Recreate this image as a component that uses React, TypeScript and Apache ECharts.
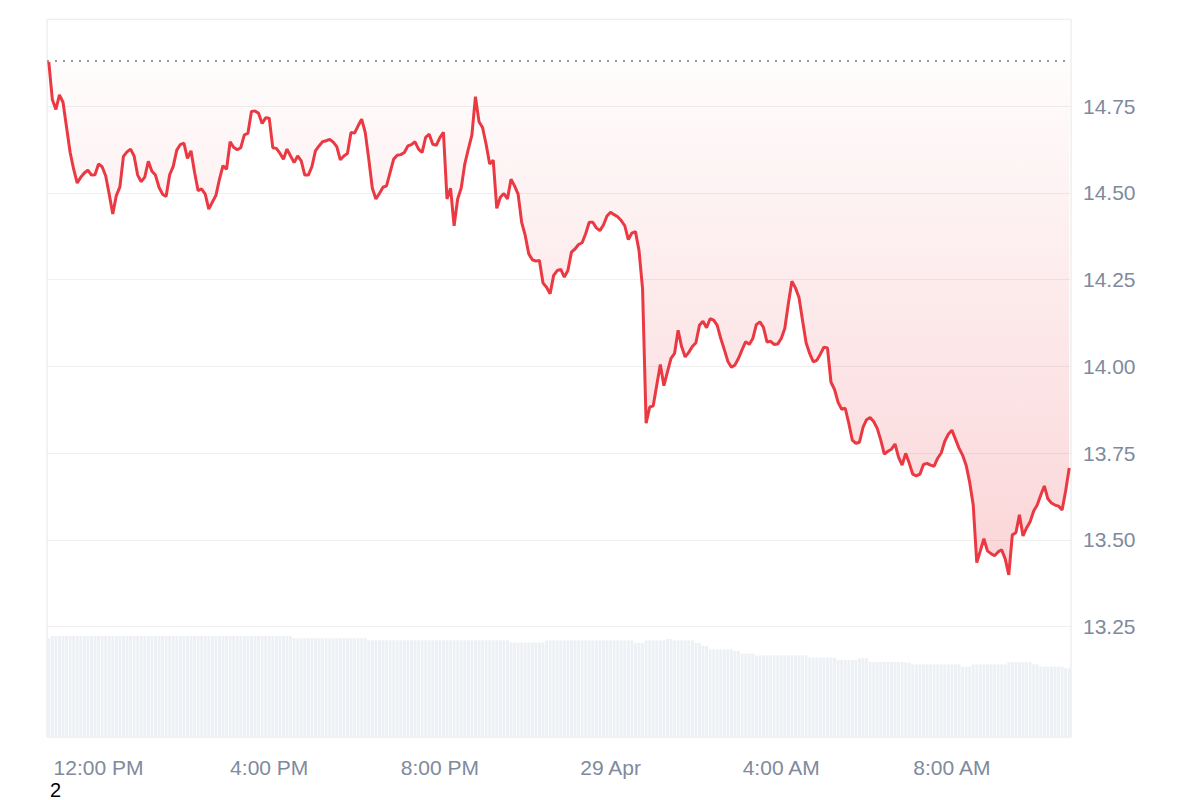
import React, { useEffect, useRef } from "react";
import * as echarts from "echarts";

// ---- data ----
const startTime = { year: 2024, month: 3, day: 28, hour: 10, minute: 50 };
const stepMinutes = 5;

const xTickTimes = ["12:00", "16:00", "20:00", "00:00", "04:00", "08:00"];
const xTickLabels = ["12:00 PM", "4:00 PM", "8:00 PM", "29 Apr", "4:00 AM", "8:00 AM"];

const yMin = 12.75;
const yMax = 15.0;
const yInterval = 0.25;
const yLabelRange = [13.25, 14.75];

const baselinePrice = 14.877;

const priceValues = [
  14.877, 14.769, 14.74, 14.782, 14.761, 14.689, 14.617, 14.568, 14.528, 14.545,
  14.557, 14.565, 14.551, 14.552, 14.583, 14.575, 14.549, 14.496, 14.439, 14.492,
  14.517, 14.605, 14.618, 14.626, 14.606, 14.551, 14.532, 14.545, 14.591, 14.562,
  14.551, 14.516, 14.496, 14.489, 14.552, 14.576, 14.623, 14.639, 14.643, 14.599,
  14.621, 14.559, 14.506, 14.511, 14.496, 14.453, 14.473, 14.492, 14.539, 14.578,
  14.568, 14.647, 14.631, 14.624, 14.63, 14.667, 14.671, 14.734, 14.736, 14.729,
  14.7, 14.716, 14.715, 14.63, 14.628, 14.614, 14.597, 14.626, 14.606, 14.587,
  14.606, 14.592, 14.551, 14.551, 14.575, 14.621, 14.635, 14.647, 14.65, 14.654,
  14.646, 14.633, 14.595, 14.606, 14.613, 14.674, 14.672, 14.693, 14.712, 14.674,
  14.597, 14.513, 14.482, 14.498, 14.516, 14.52, 14.559, 14.597, 14.608, 14.61,
  14.616, 14.635, 14.639, 14.647, 14.626, 14.616, 14.66, 14.669, 14.64, 14.637,
  14.659, 14.674, 14.482, 14.513, 14.405, 14.482, 14.514, 14.583, 14.626, 14.666,
  14.777, 14.705, 14.688, 14.64, 14.583, 14.594, 14.455, 14.487, 14.498, 14.482,
  14.539, 14.52, 14.496, 14.415, 14.377, 14.324, 14.307, 14.303, 14.305, 14.24,
  14.228, 14.209, 14.262, 14.276, 14.279, 14.257, 14.276, 14.329, 14.338, 14.351,
  14.356, 14.382, 14.415, 14.415, 14.399, 14.391, 14.407, 14.433, 14.444, 14.437,
  14.431, 14.42, 14.405, 14.365, 14.384, 14.388, 14.334, 14.224, 13.836, 13.882,
  13.886, 13.946, 14.005, 13.944, 13.984, 14.023, 14.037, 14.104, 14.056, 14.027,
  14.04, 14.057, 14.068, 14.118, 14.13, 14.111, 14.137, 14.133, 14.118, 14.08,
  14.048, 14.014, 13.997, 14.004, 14.023, 14.048, 14.071, 14.063, 14.08, 14.12,
  14.128, 14.112, 14.07, 14.072, 14.063, 14.064, 14.08, 14.109, 14.18, 14.245,
  14.226, 14.198, 14.132, 14.068, 14.037, 14.013, 14.017, 14.035, 14.055, 14.053,
  13.954, 13.933, 13.896, 13.876, 13.879, 13.836, 13.787, 13.778, 13.781, 13.824,
  13.846, 13.852, 13.841, 13.821, 13.787, 13.747, 13.755, 13.761, 13.776, 13.738,
  13.715, 13.749, 13.721, 13.689, 13.684, 13.689, 13.717, 13.72, 13.715, 13.712,
  13.735, 13.75, 13.784, 13.804, 13.816, 13.79, 13.764, 13.744, 13.715, 13.666,
  13.6, 13.434, 13.468, 13.503, 13.468, 13.46, 13.454, 13.465, 13.471, 13.445,
  13.399, 13.514, 13.52, 13.572, 13.511, 13.534, 13.552, 13.583, 13.6, 13.629,
  13.655, 13.618, 13.606, 13.6, 13.597, 13.586, 13.641, 13.707,
];

const volumeValues = [
  98.7,
  101, 101, 101, 101, 101, 101, 101, 101, 101, 101, 101, 101, 101, 101, 101, 101, 101,
  101, 101, 101, 101, 101, 101, 101, 101, 101, 101, 101, 101, 101, 101, 101, 101, 101,
  101, 101, 101, 101, 101, 101, 101, 101, 101, 101, 101, 101, 101, 101, 101, 101, 101,
  101, 101, 101, 101, 101, 101, 101, 101, 101, 101, 101, 101, 101, 101, 101, 101, 101,
  98.7, 98.7, 98.7, 98.7, 98.7, 98.7, 98.7, 98.7, 98.7, 98.7, 98.7, 98.7, 98.7, 98.7,
  98.7, 98.7, 98.7, 98.7, 98.7, 98.7, 98.7,
  96.7, 96.7, 96.7, 96.7, 96.7, 96.7, 96.7, 96.7, 96.7, 96.7, 96.7, 96.7, 96.7, 96.7,
  96.7, 96.7, 96.7, 96.7, 96.7, 96.7, 96.7, 96.7, 96.7, 96.7, 96.7, 96.7, 96.7, 96.7,
  96.7, 96.7, 96.7, 96.7, 96.7, 96.7, 96.7, 96.7, 96.7, 96.7, 96.7, 96.7,
  94.5, 94.5, 94.5, 94.5, 94.5, 94.5, 94.5, 94.5, 94.5, 94.5,
  96.6, 96.6, 96.6, 96.6, 96.6, 96.6, 96.6, 96.6, 96.6, 96.6, 96.6, 96.6, 96.6,
  96.6, 96.6, 96.6, 96.6, 96.6, 96.6, 96.6, 96.6, 96.6, 96.6, 96.6, 96.6,
  94.1, 94.1, 94.1,
  96.6, 96.6, 96.6, 96.6, 96.6, 96.6,
  98, 98,
  96.6, 96.6, 96.6, 96.6, 96.6, 96.6,
  94.1, 94.1,
  91.2, 91.2,
  87.6, 87.6, 87.6, 87.6, 87.6, 87.6, 87.6,
  85.9, 85.9,
  83.4, 83.4, 83.4, 83.4,
  81.6, 81.6, 81.6, 81.6, 81.6, 81.6, 81.6, 81.6, 81.6, 81.6, 81.6, 81.6, 81.6, 81.6, 81.6,
  79.4, 79.4, 79.4, 79.4, 79.4, 79.4, 79.4, 79.4,
  76.9, 76.9, 76.9, 76.9, 76.9, 76.9,
  78.7, 78.7, 78.7,
  75.1, 75.1, 75.1, 75.1, 75.1, 75.1, 75.1, 75.1, 75.1, 75.1,
  74.4, 74.4,
  72.6, 72.6, 72.6, 72.6, 72.6, 72.6, 72.6, 72.6, 72.6, 72.6, 72.6, 72.6, 72.6, 72.6,
  70.5, 70.5, 70.5,
  72.6, 72.6, 72.6, 72.6, 72.6, 72.6, 72.6, 72.6, 72.6, 72.6,
  74.8, 74.8, 74.8, 74.8, 74.8, 74.8, 74.8,
  72.6, 72.6,
  70.5, 70.5, 70.5, 70.5, 70.5, 70.5, 70.5,
  68.7, 68.7,
];

const volumeAxisMax = 717.7;

// ---- categories (5-minute timestamps) ----
const categories: string[] = [];
for (let i = 0; i < priceValues.length; i++) {
  const d = new Date(
    startTime.year,
    startTime.month,
    startTime.day,
    startTime.hour,
    startTime.minute + i * stepMinutes
  );
  categories.push(
    `${String(d.getHours()).padStart(2, "0")}:${String(d.getMinutes()).padStart(2, "0")}`
  );
}

const fillGap = priceValues.map((v) => +(baselinePrice - v).toFixed(3));

const FONT = "'Liberation Sans', Arial, Helvetica, sans-serif";
const LABEL_COLOR = "#808a9d";
const GRID_LINE = "#efefef";

export default function App() {
  const ref = useRef<HTMLDivElement>(null);

  useEffect(() => {
    if (!ref.current) return;
    const chart = echarts.init(ref.current, undefined, { renderer: "svg" });

    const tickCount = Math.round((yMax - yMin) / yInterval) + 1;
    const splitColors: string[] = [];
    for (let i = 0; i < tickCount; i++) {
      const v = yMin + i * yInterval;
      splitColors.push(v < yLabelRange[0] - 1e-6 ? "rgba(0,0,0,0)" : GRID_LINE);
    }

    chart.setOption({
      animation: false,
      textStyle: { fontFamily: FONT },
      grid: [
        { left: 47, right: 129, top: 19.3, height: 783.9, show: false },
        {
          left: 47,
          right: 129,
          top: 19.3,
          bottom: 63,
          show: true,
          borderColor: "#e6e6e6",
          borderWidth: 1,
          backgroundColor: "transparent",
        },
      ],
      xAxis: [
        {
          type: "category",
          gridIndex: 0,
          data: categories,
          boundaryGap: true,
          show: false,
        },
        {
          type: "category",
          gridIndex: 1,
          data: categories,
          boundaryGap: true,
          axisLine: { show: false },
          axisTick: { show: false },
          splitLine: { show: false },
          axisLabel: {
            interval: (_i: number, value: string) => xTickTimes.indexOf(value) >= 0,
            formatter: (value: string) => {
              const idx = xTickTimes.indexOf(value);
              return idx >= 0 ? xTickLabels[idx] : "";
            },
            color: LABEL_COLOR,
            fontSize: 21,
            fontFamily: FONT,
            margin: 20,
          },
        },
      ],
      yAxis: [
        {
          type: "value",
          gridIndex: 0,
          position: "right",
          min: yMin,
          max: yMax,
          interval: yInterval,
          axisLine: { show: false },
          axisTick: { show: false },
          splitLine: { show: true, lineStyle: { color: splitColors, width: 1 } },
          axisLabel: {
            color: LABEL_COLOR,
            fontSize: 21,
            fontFamily: FONT,
            margin: 12,
            formatter: (v: number) =>
              v >= yLabelRange[0] - 1e-6 && v <= yLabelRange[1] + 1e-6 ? v.toFixed(2) : "",
          },
        },
        {
          type: "value",
          gridIndex: 1,
          min: 0,
          max: volumeAxisMax,
          show: false,
          splitLine: { show: false },
        },
      ],
      series: [
        {
          name: "volume",
          type: "bar",
          xAxisIndex: 1,
          yAxisIndex: 1,
          data: volumeValues,
          barCategoryGap: "18%",
          itemStyle: { color: "#edf0f4" },
          silent: true,
          z: 1,
        },
        {
          name: "fillBase",
          type: "line",
          xAxisIndex: 0,
          yAxisIndex: 0,
          stack: "fill",
          data: priceValues,
          symbol: "none",
          lineStyle: { opacity: 0, width: 0 },
          silent: true,
          z: 2,
        },
        {
          name: "fillArea",
          type: "line",
          xAxisIndex: 0,
          yAxisIndex: 0,
          stack: "fill",
          data: fillGap,
          symbol: "none",
          lineStyle: { opacity: 0, width: 0 },
          areaStyle: {
            color: new echarts.graphic.LinearGradient(0, 0, 0, 1, [
              { offset: 0, color: "rgba(234,57,67,0.02)" },
              { offset: 1, color: "rgba(234,57,67,0.30)" },
            ]),
          },
          silent: true,
          z: 2,
        },
        {
          name: "price",
          type: "line",
          xAxisIndex: 0,
          yAxisIndex: 0,
          data: priceValues,
          symbol: "none",
          lineStyle: { color: "#ea3943", width: 3 },
          itemStyle: { color: "#ea3943" },
          z: 4,
          markLine: {
            silent: true,
            symbol: "none",
            label: { show: false },
            lineStyle: { color: "#999999", type: [2, 6], width: 2 },
            data: [{ yAxis: baselinePrice }],
          },
        },
      ],
      graphic: [
        {
          type: "text",
          left: 50,
          top: 780,
          style: { text: "2", fontSize: 20, fill: "#000", fontFamily: FONT },
        },
      ],
    });

    return () => chart.dispose();
  }, []);

  return (
    <div
      ref={ref}
      style={{ position: "absolute", left: 0, top: 0, width: 1200, height: 800, background: "#fff" }}
    />
  );
}
